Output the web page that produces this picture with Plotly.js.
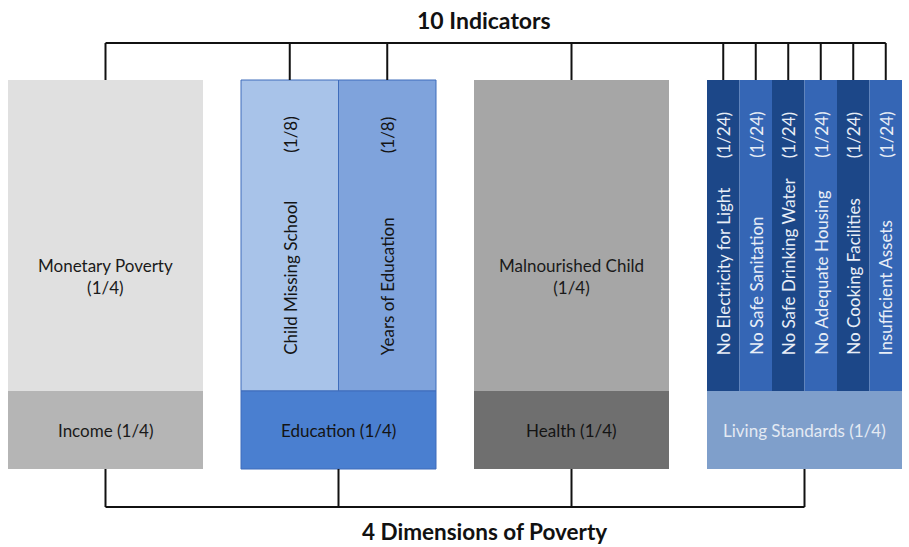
<!DOCTYPE html>
<html>
<head>
<meta charset="utf-8">
<script src="https://cdn.plot.ly/plotly-3.0.1.min.js"></script>
<style>
  html, body { margin: 0; padding: 0; background: #ffffff; }
  #chart { width: 909px; height: 547px; }
</style>
</head>
<body>
<div id="chart"></div>
<script>
// dimensions of poverty and their weights
var dimensions = ["Income", "Education", "Health", "Living Standards"];
var dimensionWeights = ["1/4", "1/4", "1/4", "1/4"];

// indicators inside each dimension
var indicators = [
  ["Monetary Poverty"],
  ["Child Missing School", "Years of Education"],
  ["Malnourished Child"],
  ["No Electricity for Light", "No Safe Sanitation", "No Safe Drinking Water",
   "No Adequate Housing", "No Cooking Facilities", "Insufficient Assets"]
];
var indicatorWeights = [
  ["1/4"],
  ["1/8", "1/8"],
  ["1/4"],
  ["1/24", "1/24", "1/24", "1/24", "1/24", "1/24"]
];

var topTitle = "10 Indicators";
var bottomTitle = "4 Dimensions of Poverty";

// layout of the diagram (plot units = pixels)
var X0 = 8, STEP = 233, W = 195;
var TOP = 80, MID = 391, BOT = 469;
var TOPLINE = 43, BOTLINE = 507;

// colours
var dimColors = ["#b5b5b5", "#4a7fd0", "#6f6f6f", "#7f9fcb"];
var dimTextColors = ["#1a1a1a", "#141414", "#141414", "#e4eaf3"];
var indColors = [
  ["#e0e0e0"],
  ["#a8c3e9", "#7fa3dc"],
  ["#a6a6a6"],
  ["#1c4788", "#3566b5", "#1c4788", "#3566b5", "#1c4788", "#3566b5"]
];
var indTextColors = ["#1a1a1a", "#141414", "#1a1a1a", "#e8eef7"];
var FONT = "Lato, 'Open Sans', sans-serif";
var TXT = 17;

var indX = [], indW = [], indC = [], indLineC = [], indLineW = [];
var dimX = [], dimC = [], dimLineC = [], dimLineW = [];
var annotations = [];
var topX = [], topY = [], botX = [], botY = [];
var topCenters = [], botCenters = [];

for (var i = 0; i < dimensions.length; i++) {
  var left = X0 + i * STEP;
  var n = indicators[i].length;
  var sub = W / n;
  var outlined = i === 1;

  dimX.push(left + W / 2);
  dimC.push(dimColors[i]);
  dimLineC.push(outlined ? "#3f6dbb" : "rgba(0,0,0,0)");
  dimLineW.push(outlined ? 1 : 0);
  botCenters.push(left + W / 2);

  annotations.push({
    x: left + W / 2, y: (MID + BOT) / 2, xref: "x", yref: "y",
    text: dimensions[i] + " (" + dimensionWeights[i] + ")",
    showarrow: false,
    font: { family: FONT, size: TXT, color: dimTextColors[i] }
  });

  for (var j = 0; j < n; j++) {
    var cx = left + (j + 0.5) * sub;
    indX.push(cx);
    indW.push(sub);
    indC.push(indColors[i][j]);
    indLineC.push(outlined ? "#3f6dbb" : "rgba(0,0,0,0)");
    indLineW.push(outlined ? 1 : 0);
    topCenters.push(cx);

    if (n === 1) {
      annotations.push({
        x: cx, y: 276, xref: "x", yref: "y",
        text: indicators[i][j] + "<br>(" + indicatorWeights[i][j] + ")",
        showarrow: false,
        font: { family: FONT, size: TXT, color: indTextColors[i] }
      });
    } else {
      annotations.push({
        x: cx, y: 357, xref: "x", yref: "y",
        text: indicators[i][j], textangle: -90,
        xanchor: "center", yanchor: "bottom",
        showarrow: false,
        font: { family: FONT, size: TXT, color: indTextColors[i] }
      });
      annotations.push({
        x: cx, y: 135, xref: "x", yref: "y",
        text: "(" + indicatorWeights[i][j] + ")", textangle: -90,
        showarrow: false,
        font: { family: FONT, size: TXT, color: indTextColors[i] }
      });
    }
  }
}

// connector lines
topCenters.forEach(function (c) {
  topX.push(c, c, null);
  topY.push(TOP, TOPLINE, null);
});
topX.push(topCenters[0], topCenters[topCenters.length - 1]);
topY.push(TOPLINE, TOPLINE);

botCenters.forEach(function (c) {
  botX.push(c, c, null);
  botY.push(BOT, BOTLINE, null);
});
botX.push(botCenters[0], botCenters[botCenters.length - 1]);
botY.push(BOTLINE, BOTLINE);

var data = [
  {
    type: "bar", x: indX, width: indW,
    base: indX.map(function () { return TOP; }),
    y: indX.map(function () { return MID - TOP; }),
    marker: { color: indC, line: { color: indLineC, width: indLineW } },
    hoverinfo: "skip"
  },
  {
    type: "bar", x: dimX, width: dimX.map(function () { return W; }),
    base: dimX.map(function () { return MID; }),
    y: dimX.map(function () { return BOT - MID; }),
    marker: { color: dimC, line: { color: dimLineC, width: dimLineW } },
    hoverinfo: "skip"
  },
  {
    type: "scatter", mode: "lines", x: topX, y: topY,
    line: { color: "#111111", width: 2 }, hoverinfo: "skip"
  },
  {
    type: "scatter", mode: "lines", x: botX, y: botY,
    line: { color: "#111111", width: 2 }, hoverinfo: "skip"
  }
];

annotations.push({
  x: 484, y: 20, xref: "x", yref: "y", text: "<b>" + topTitle + "</b>",
  showarrow: false, font: { family: FONT, size: 23, color: "#111111" }
});
annotations.push({
  x: 484, y: 531, xref: "x", yref: "y", text: "<b>" + bottomTitle + "</b>",
  showarrow: false, font: { family: FONT, size: 22.5, color: "#111111" }
});

var layout = {
  width: 909,
  height: 547,
  margin: { l: 0, r: 0, t: 0, b: 0 },
  paper_bgcolor: "#ffffff",
  plot_bgcolor: "#ffffff",
  showlegend: false,
  barmode: "overlay",
  xaxis: { range: [0, 909], visible: false, fixedrange: true },
  yaxis: { range: [547, 0], visible: false, fixedrange: true },
  annotations: annotations
};

Plotly.newPlot("chart", data, layout, { displayModeBar: false, staticPlot: true });
</script>
</body>
</html>
